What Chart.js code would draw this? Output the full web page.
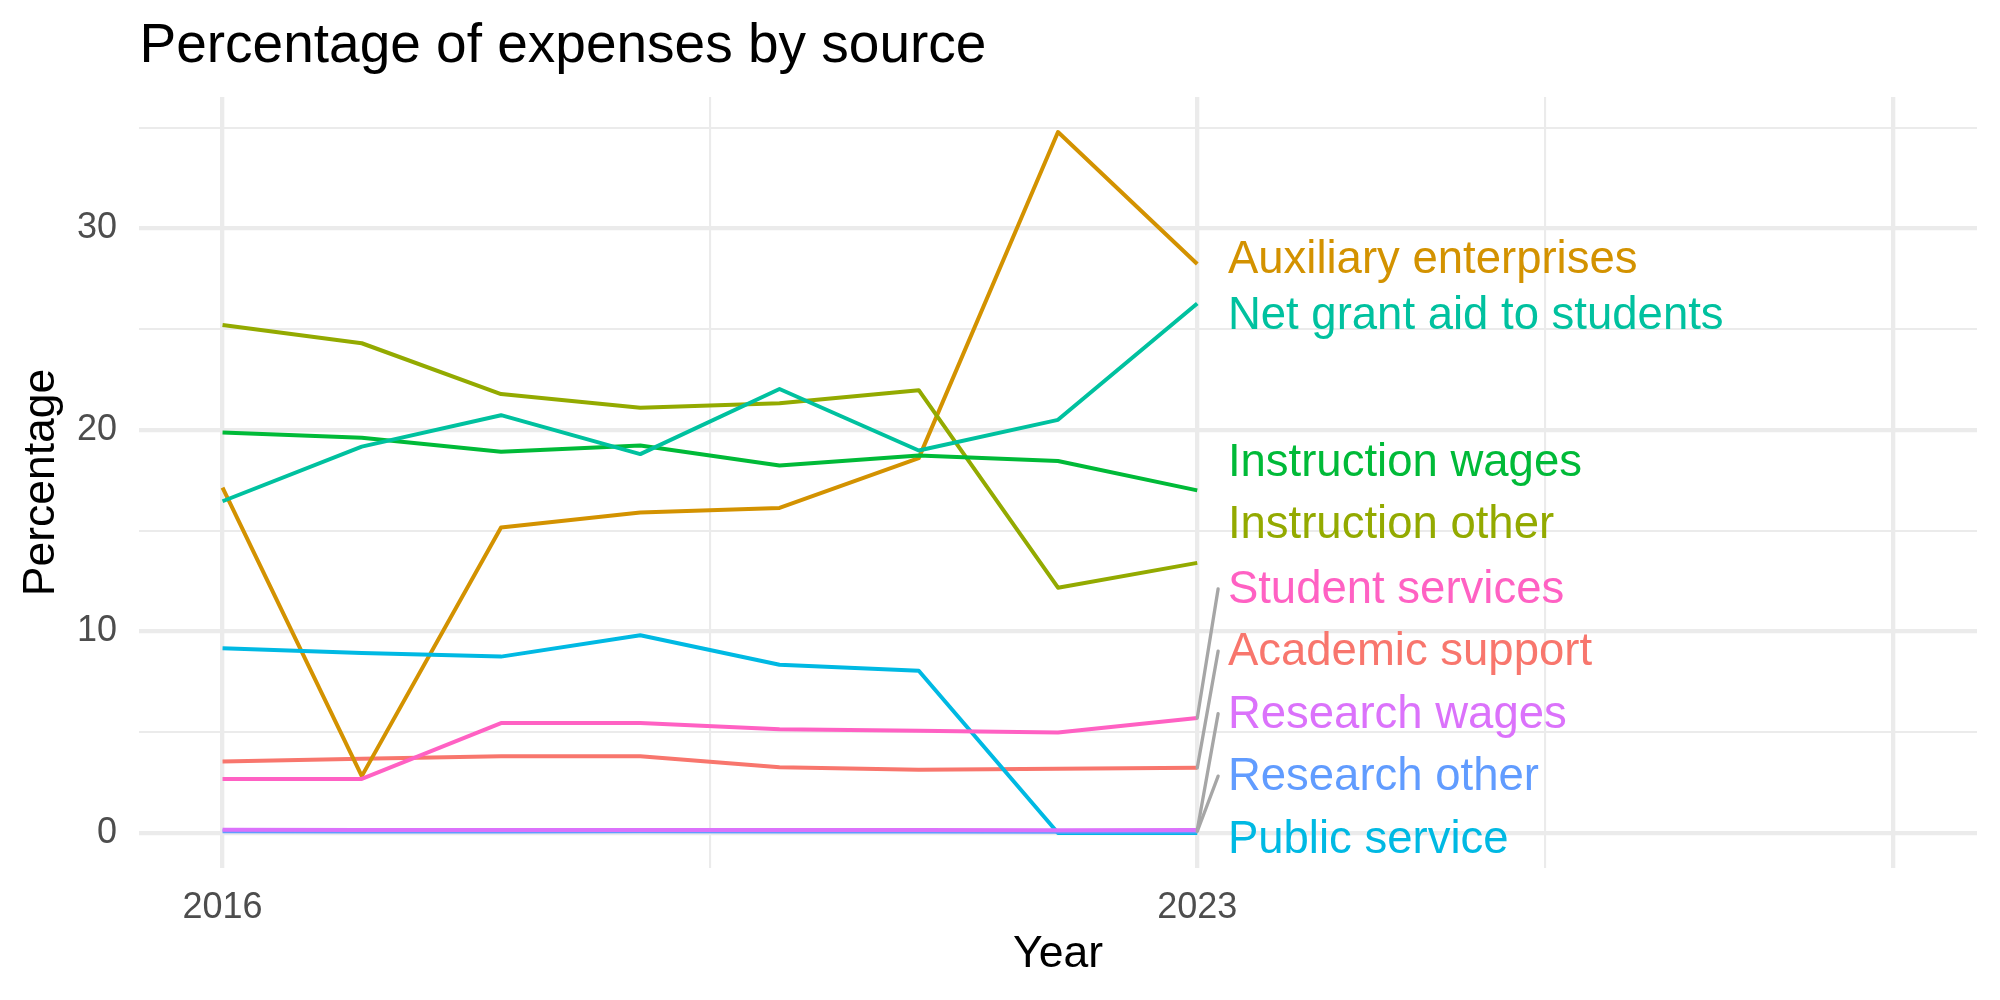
<!DOCTYPE html>
<html>
<head>
<meta charset="utf-8">
<script src="https://cdn.jsdelivr.net/npm/chart.js@4.4.1/dist/chart.umd.min.js"></script>
<style>
  html, body { margin: 0; padding: 0; background: #fff; }
  #wrap { width: 2000px; height: 1000px; }
</style>
</head>
<body>
<div id="wrap"><canvas id="expensesChart" width="2000" height="1000"></canvas></div>
<script>
// data
const years = [2016, 2017, 2018, 2019, 2020, 2021, 2022, 2023];

const academicSupport   = [3.54, 3.68, 3.81, 3.81, 3.26, 3.13, 3.18, 3.23];
const auxiliary         = [17.14, 2.82, 15.16, 15.9, 16.13, 18.6, 34.78, 28.23];
const instructionOther  = [25.21, 24.3, 21.78, 21.1, 21.32, 21.97, 12.17, 13.4];
const instructionWages  = [19.87, 19.61, 18.92, 19.23, 18.23, 18.73, 18.46, 17.0];
const netGrantAid       = [16.46, 19.17, 20.73, 18.8, 22.03, 18.98, 20.5, 26.27];
const publicService     = [9.17, 8.93, 8.75, 9.81, 8.35, 8.05, 0.0, 0.0];
const researchOther     = [0.08, 0.07, 0.07, 0.08, 0.07, 0.07, 0.06, 0.07];
const researchWages     = [0.16, 0.14, 0.14, 0.14, 0.14, 0.15, 0.13, 0.14];
const studentServices   = [2.68, 2.68, 5.45, 5.45, 5.14, 5.07, 4.98, 5.7];

const seriesNames = ['Academic support', 'Auxiliary enterprises', 'Instruction other',
  'Instruction wages', 'Net grant aid to students', 'Public service',
  'Research other', 'Research wages', 'Student services'];
const seriesValues = [academicSupport, auxiliary, instructionOther, instructionWages,
  netGrantAid, publicService, researchOther, researchWages, studentServices];
const seriesColors = ['#F8766D', '#D39200', '#93AA00', '#00BA38', '#00C19F',
  '#00B9E3', '#619CFF', '#DB72FB', '#FF61C3'];

// where the repelled labels ended up (y, in data units)
const labelY = [9.12, 28.57, 15.44, 18.53, 25.84, -0.17, 2.92, 6.02, 12.21];
const labelX = 2023.22;

const xTicks = [2016, 2019.5, 2023, 2025.5, 2028];
const xMajor = [2016, 2023, 2028];
const xLabels = [2016, 2023];
const yTicks = [0, 5, 10, 15, 20, 25, 30, 35];

const FONT = '"Liberation Sans", Arial, Helvetica, sans-serif';
const GRID = '#EBEBEB';

const datasets = seriesNames.map((name, i) => ({
  label: name,
  data: years.map((yr, j) => ({ x: yr, y: seriesValues[i][j] })),
  borderColor: seriesColors[i],
  backgroundColor: seriesColors[i],
  borderWidth: 4,
  pointRadius: 0,
  tension: 0,
  fill: false,
  borderJoinStyle: 'round',
  order: seriesNames.length - i   // later groups on top, like ggplot
}));

// title, text labels and repel segments
const annotations = {
  id: 'annotations',
  afterDatasetsDraw(chart) {
    const ctx = chart.ctx;
    const xs = chart.scales.x, ys = chart.scales.y;
    const last = years.length - 1;
    ctx.save();

    // segments first
    ctx.strokeStyle = '#A6A6A6';
    ctx.lineWidth = 3.3;
    ctx.lineCap = 'round';
    seriesNames.forEach((name, i) => {
      const v = seriesValues[i][last];
      if (Math.abs(labelY[i] - v) < 2.5) return;
      ctx.beginPath();
      ctx.moveTo(xs.getPixelForValue(years[last]), ys.getPixelForValue(v));
      ctx.lineTo(xs.getPixelForValue(2023.15), ys.getPixelForValue(labelY[i]) + 2);
      ctx.stroke();
    });

    // labels
    const fs = 45.5;
    ctx.font = fs + 'px ' + FONT;
    ctx.textAlign = 'left';
    ctx.textBaseline = 'alphabetic';
    seriesNames.forEach((name, i) => {
      ctx.fillStyle = seriesColors[i];
      ctx.fillText(name, xs.getPixelForValue(labelX), ys.getPixelForValue(labelY[i]) + 0.358 * fs);
    });

    // plot title
    ctx.fillStyle = '#000000';
    ctx.font = '55px ' + FONT;
    ctx.fillText('Percentage of expenses by source', 139.5, 62);
    ctx.restore();
  }
};

new Chart(document.getElementById('expensesChart'), {
  type: 'line',
  data: { datasets },
  options: {
    responsive: false,
    devicePixelRatio: 1,
    animation: false,
    events: [],
    layout: { padding: { top: 97, right: 23, bottom: 0, left: 0 } },
    plugins: { legend: { display: false }, tooltip: { enabled: false }, title: { display: false } },
    scales: {
      x: {
        type: 'linear',
        min: 2015.4,
        max: 2028.6,
        afterBuildTicks: s => { s.ticks = xTicks.map(v => ({ value: v })); },
        afterFit: s => { s.height = 132; },
        border: { display: false },
        grid: {
          color: GRID,
          drawTicks: false,
          lineWidth: c => (c.tick && xMajor.includes(c.tick.value)) ? 4.3 : 2.1
        },
        ticks: {
          autoSkip: false,
          maxRotation: 0,
          minRotation: 0,
          padding: 18,
          color: '#4D4D4D',
          font: { family: FONT, size: 36 },
          callback: v => xLabels.includes(v) ? String(v) : ''
        },
        title: {
          display: true,
          text: 'Year',
          color: '#000000',
          font: { family: FONT, size: 44.5 },
          padding: { top: 0, bottom: 19 }
        }
      },
      y: {
        type: 'linear',
        min: -1.74,
        max: 36.52,
        afterBuildTicks: s => { s.ticks = yTicks.map(v => ({ value: v })); },
        afterFit: s => { s.width = 139; },
        border: { display: false },
        grid: {
          color: GRID,
          drawTicks: false,
          lineWidth: c => (c.tick && c.tick.value % 10 === 0) ? 4.3 : 2.1
        },
        ticks: {
          padding: 22,
          color: '#4D4D4D',
          font: { family: FONT, size: 36 },
          callback: v => v % 10 === 0 ? String(v) : ''
        },
        title: {
          display: true,
          text: 'Percentage',
          color: '#000000',
          font: { family: FONT, size: 44.5 },
          padding: { top: 15.3, bottom: 0 }
        }
      }
    }
  },
  plugins: [annotations]
});
</script>
</body>
</html>
